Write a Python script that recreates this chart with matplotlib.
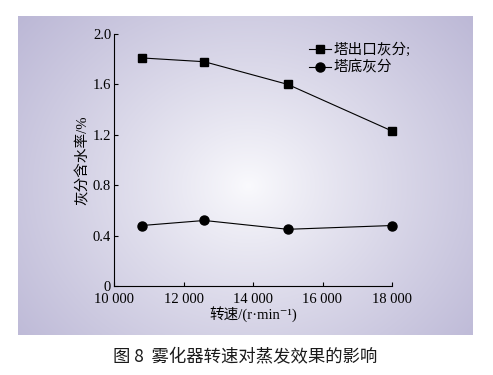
import numpy as np
import matplotlib

matplotlib.use("Agg")
import matplotlib.pyplot as plt
from matplotlib.ticker import FuncFormatter

# data
speed = [10800, 12600, 15000, 18000]
outlet_ash = [1.81, 1.78, 1.60, 1.23]
bottom_ash = [0.48, 0.52, 0.45, 0.48]
legend_labels = ["塔出口灰分;", "塔底灰分"]
x_ticks = [10000, 12000, 14000, 16000, 18000]
y_ticks = [0, 0.4, 0.8, 1.2, 1.6, 2.0]

SERIF = ["Liberation Serif", "Noto Sans CJK SC", "DejaVu Serif"]

fig = plt.figure(figsize=(4.93, 3.75), dpi=100)

# gradient panel behind the plot
bg = fig.add_axes([18 / 493, 1 - 335 / 375, (473 - 18) / 493, (335 - 16) / 375])
bg.set_axis_off()
h, w = 320, 455
yy, xx = np.mgrid[0:h, 0:w]
r = np.sqrt(((xx - 230) / 300.0) ** 2 + ((yy - 170) / 260.0) ** 2)
t = np.clip(r, 0, 1) ** 0.9
light = np.array([250, 250, 253]) / 255.0
dark = np.array([188, 184, 214]) / 255.0
img = light[None, None, :] * (1 - t[..., None]) + dark[None, None, :] * t[..., None]
bg.imshow(img, aspect="auto", extent=[0, 1, 0, 1])
bg.set_zorder(0)

ax = fig.add_axes([114 / 493, 1 - 286 / 375, (392 - 114) / 493, (286 - 34) / 375])
ax.set_zorder(1)
ax.patch.set_alpha(0)

ax.plot(speed, outlet_ash, color="black", lw=0.8, marker="s", ms=5.5,
        label=legend_labels[0], clip_on=False)
ax.plot(speed, bottom_ash, color="black", lw=0.8, marker="o", ms=6.5,
        label=legend_labels[1], clip_on=False)

ax.set_xlim(10000, 18000)
ax.set_ylim(0, 2.0)
ax.set_xticks(x_ticks)
ax.set_yticks(y_ticks)
ax.xaxis.set_major_formatter(FuncFormatter(lambda v, p: f"{v:,.0f}".replace(",", " ")))
ax.yaxis.set_major_formatter(FuncFormatter(lambda v, p: "0" if v == 0 else f"{v:.1f}"))
for side in ["top", "right"]:
    ax.spines[side].set_visible(False)
for side in ["left", "bottom"]:
    ax.spines[side].set_linewidth(0.8)
ax.tick_params(direction="in", length=3, width=0.8, labelsize=10.5)
ax.tick_params(axis="x", pad=5)
ax.tick_params(axis="y", pad=2)
for lab in ax.get_xticklabels() + ax.get_yticklabels():
    lab.set_family(SERIF)

ax.set_xlabel("转速/(r·min⁻¹)", family=SERIF, fontsize=10.5, labelpad=0)
ax.set_ylabel("灰分含水率/%", family=SERIF, fontsize=10.5, labelpad=2)

leg = ax.legend(loc="upper right", bbox_to_anchor=(1.10, 1.0), frameon=False,
                prop={"family": SERIF, "size": 10.5}, handlelength=1.5,
                handletextpad=0.2, labelspacing=0.25, borderaxespad=0.2)

fig.text(245 / 493, 1 - 357 / 375, "图 8  雾化器转速对蒸发效果的影响",
         family=["Noto Sans CJK SC", "DejaVu Sans"], fontsize=12.5,
         ha="center", va="center", color="#1a1a1a")

fig.savefig("out.png", dpi=100)
